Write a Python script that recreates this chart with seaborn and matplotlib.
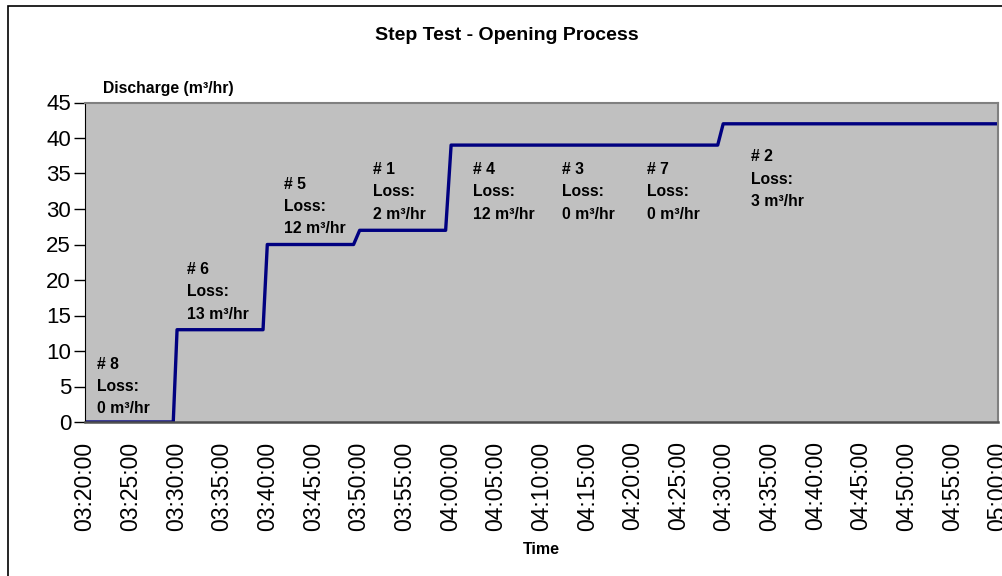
import pandas as pd
import matplotlib
matplotlib.use("Agg")
import matplotlib.pyplot as plt
import matplotlib.dates as mdates
from matplotlib.patches import Rectangle
import seaborn as sns

# -----------------------
# Data
# -----------------------
times = ["03:20:00", "03:29:40", "03:30:05", "03:39:30", "03:39:58",
         "03:49:25", "03:50:05", "03:59:30", "04:00:06", "04:29:18",
         "04:29:54", "05:00:00"]
discharge = [0, 0, 13, 13, 25, 25, 27, 27, 39, 39, 42, 42]

step_labels = ["# 8", "# 6", "# 5", "# 1", "# 4", "# 3", "# 7", "# 2"]
losses = [0, 13, 12, 2, 12, 0, 0, 3]

# label placement (minutes after 03:20, top of text in data units)
label_min = [1.3, 11.2, 21.8, 31.5, 42.5, 52.2, 61.6, 73.0]
label_top = [9.2, 22.5, 34.5, 36.6, 36.6, 36.6, 36.6, 38.4]

day = "2000-01-01 "
df = pd.DataFrame({"Time": pd.to_datetime([day + t for t in times]),
                   "Discharge": discharge})
t0 = pd.Timestamp(day + "03:20:00")
t1 = pd.Timestamp(day + "05:00:00")

sns.set_style("white")
plt.rcParams["font.family"] = ["Liberation Sans", "DejaVu Sans"]
plt.rcParams["text.color"] = "black"
plt.rcParams["xtick.color"] = "black"
plt.rcParams["ytick.color"] = "black"

fig = plt.figure(figsize=(10.03, 5.76), dpi=100)
ax = fig.add_axes([85 / 1003, 1 - 422 / 576, (998 - 85) / 1003, (422 - 102.5) / 576])
ax.set_facecolor("#C0C0C0")

sns.lineplot(data=df, x="Time", y="Discharge", ax=ax, color="#000080",
             linewidth=2.4, solid_joinstyle="round")

ax.set_xlim(t0, t1)
ax.set_ylim(0, 45)
ax.set_yticks(range(0, 46, 5))
ax.xaxis.set_major_locator(mdates.MinuteLocator(byminute=range(0, 60, 5)))
ax.xaxis.set_major_formatter(mdates.DateFormatter("%H:%M:%S"))
ax.tick_params(axis="x", labelsize=16.5, rotation=90, length=0, pad=14,
               labelcolor="black")
ax.tick_params(axis="y", labelsize=16, length=8, width=1, direction="out",
               pad=2, left=True, color="black", labelcolor="black")
for lbl in ax.get_xticklabels():
    lbl.set_verticalalignment("top")

ax.spines["left"].set_color("black")
ax.spines["bottom"].set_color("#505050")
ax.spines["bottom"].set_linewidth(1.8)
ax.spines["top"].set_color("#808080")
ax.spines["right"].set_color("#808080")
ax.spines["top"].set_linewidth(1.5)
ax.spines["right"].set_linewidth(1.5)

ax.set_xlabel("")
ax.set_ylabel("")

# step annotations
for name, loss, m, top in zip(step_labels, losses, label_min, label_top):
    x = mdates.date2num(t0 + pd.Timedelta(minutes=m))
    ax.text(x, top, f"{name}\nLoss:\n{loss} m³/hr", fontsize=11.3,
            fontweight="bold", ha="left", va="top", linespacing=1.6,
            color="black")

fig.text(507 / 1003, 1 - 36 / 576, "Step Test - Opening Process",
         fontsize=14, fontweight="bold", ha="center", va="center", color="black")
fig.text(103 / 1003, 1 - 88 / 576, "Discharge (m³/hr)",
         fontsize=11.3, fontweight="bold", ha="left", va="center", color="black")
fig.text(541 / 1003, 1 - 550 / 576, "Time",
         fontsize=11.5, fontweight="bold", ha="center", va="center", color="black")

# outer chart border (runs off the right and bottom edges)
fig.patches.append(Rectangle((8 / 1003, -0.05), 1.2, 1.05 - 5.5 / 576,
                             transform=fig.transFigure, fill=False,
                             edgecolor="black", linewidth=1.2))

fig.savefig("out.png", dpi=100)
